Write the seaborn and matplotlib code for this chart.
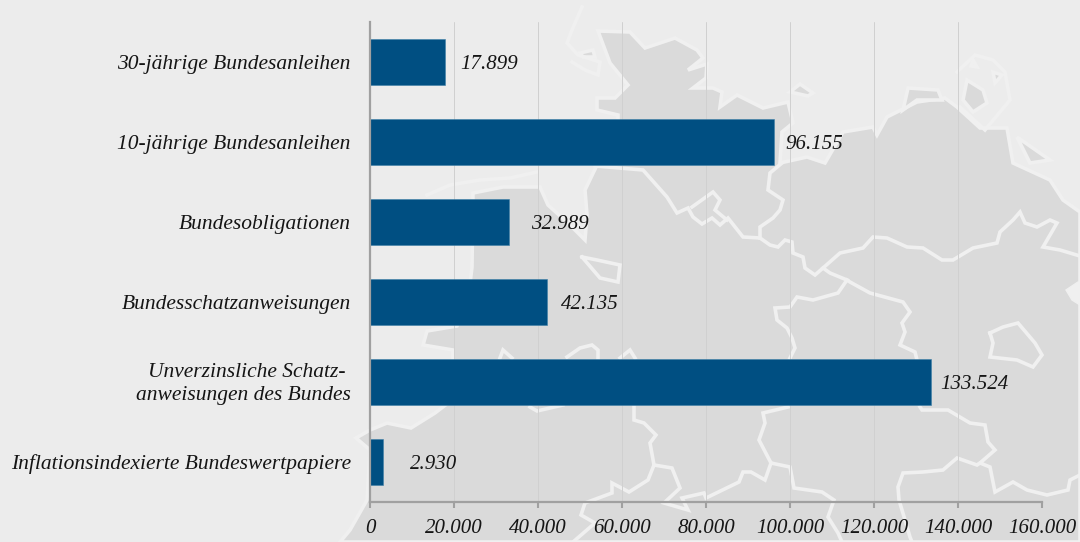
import matplotlib
matplotlib.use('Agg')
import matplotlib.pyplot as plt
from matplotlib.patches import Polygon
from matplotlib.transforms import ScaledTranslation
import pandas as pd
import seaborn as sns

# data
categories = ['30-jährige Bundesanleihen', '10-jährige Bundesanleihen', 'Bundesobligationen',
              'Bundesschatzanweisungen', 'Unverzinsliche Schatz- \nanweisungen des Bundes',
              'Inflationsindexierte Bundeswertpapiere']
values = [17899, 96155, 32989, 42135, 133524, 2930]
x_ticks = [0, 20000, 40000, 60000, 80000, 100000, 120000, 140000, 160000]
label_gap = [15, 11, 22, 14, 9, 27]  # px between bar end and number

BG = '#ECECEC'
LAND = '#DADADA'
STROKE = '#F0F0F0'
BAR = '#004F82'
AXIS = '#A0A0A0'
TEXT = '#151515'

# background map, in pixels of the picture
land = [(598, 31), (630, 32), (645, 48), (675, 38), (697, 50), (703, 58), (688, 70), (707, 64), (706, 78),
        (693, 88), (713, 88), (722, 92), (720, 107), (737, 95), (763, 108), (788, 102), (793, 123),
        (782, 132), (780, 163), (807, 157), (825, 163), (843, 132), (873, 127), (877, 135), (887, 117),
        (917, 102), (945, 98), (957, 107), (980, 128), (1007, 128), (1013, 163), (1050, 180), (1063, 200),
        (1080, 212), (1080, 542), (340, 542), (350, 530), (367, 500), (370, 450), (356, 438), (370, 430),
        (387, 423), (411, 428), (435, 413), (452, 400), (453, 350), (423, 345), (427, 331), (457, 326),
        (468, 300), (472, 267), (473, 193), (503, 187), (540, 187), (548, 205), (570, 225), (585, 240),
        (587, 215), (585, 190), (597, 165), (618, 160), (618, 115), (597, 110), (597, 98), (615, 98),
        (628, 85), (610, 63)]
islands = [
    [(967, 80), (983, 90), (987, 103), (973, 112), (963, 100)],
    [(993, 72), (1002, 75), (995, 83)],
    [(908, 88), (938, 90), (942, 100), (917, 100), (903, 110)],
    [(1017, 137), (1050, 160), (1030, 163)],
    [(790, 92), (800, 84), (813, 93), (808, 96)],
    [(580, 53), (593, 50), (595, 57), (583, 57)],
    [(973, 60), (977, 67), (971, 66)],
]
light_patches = [
    [(1066, 290), (1078, 282), (1080, 282), (1080, 305), (1072, 300)],
]
borders = [
    [(595, 166), (643, 170), (667, 197), (677, 213), (688, 208), (693, 217), (702, 224), (712, 218), (720, 225),
     (728, 218), (743, 237), (760, 238), (770, 245), (778, 247), (785, 240), (792, 242), (793, 253), (803, 257),
     (805, 268), (815, 275), (823, 268), (830, 273), (847, 280), (838, 293), (813, 300), (797, 297), (790, 307),
     (775, 308), (777, 320), (787, 328), (792, 338), (795, 348), (790, 358)],
    [(692, 207), (713, 192), (720, 200), (715, 210), (727, 220)],
    [(760, 238), (760, 227), (773, 218), (780, 210), (783, 200), (768, 190), (770, 173), (782, 163)],
    [(823, 268), (840, 253), (863, 248), (873, 237), (887, 238), (907, 247), (923, 248), (942, 260), (953, 260),
     (973, 248), (997, 243), (1000, 232), (1013, 220), (1020, 212), (1025, 223), (1037, 227), (1050, 220),
     (1057, 223), (1043, 247), (1060, 250), (1080, 256)],
    [(582, 257), (597, 260), (620, 265), (618, 282), (600, 278), (582, 257)],
    [(847, 280), (850, 282), (870, 293), (903, 302), (910, 312), (902, 323), (905, 332), (900, 345), (915, 352),
     (917, 360)],
    [(920, 407), (922, 410), (948, 410), (970, 423), (985, 425), (988, 442), (995, 450), (980, 463), (990, 467),
     (995, 492), (1013, 482), (1027, 490), (1047, 495), (1068, 490), (1070, 480), (1080, 475)],
    [(980, 463), (977, 465), (957, 458), (943, 470), (923, 472), (903, 473), (898, 487), (899, 500), (905, 520),
     (910, 537), (912, 542)],
    [(788, 407), (763, 413), (765, 423), (759, 440), (771, 463), (790, 467), (794, 488), (822, 492), (834, 500),
     (828, 517), (838, 533), (842, 542)],
    [(771, 463), (765, 480), (751, 472), (743, 472), (739, 482), (706, 498), (704, 493), (682, 498), (688, 510),
     (664, 503), (680, 488), (672, 468), (654, 465), (648, 480), (629, 492), (612, 483), (612, 493), (585, 503),
     (581, 515), (595, 523), (573, 542)],
    [(654, 465), (650, 443), (656, 435), (644, 423), (634, 420), (634, 407)],
    [(990, 333), (1003, 327), (1018, 323), (1035, 343), (1042, 355), (1033, 367), (1017, 360), (990, 357),
     (993, 343), (990, 333)],
    [(567, 357), (580, 348), (592, 345), (598, 350), (598, 358)],
    [(620, 358), (630, 350), (635, 358)],
    [(530, 407), (537, 411), (563, 405)],
    [(500, 358), (503, 350), (512, 358)],
    [(427, 195), (450, 185), (480, 180), (510, 178), (537, 172)],
    [(582, 7), (572, 30), (567, 43), (578, 55), (600, 62), (598, 75), (585, 70), (572, 62)],
    [(957, 72), (975, 55), (993, 60), (1005, 72), (1010, 100), (985, 130), (960, 107)],
]

plt.figure(figsize=(10.8, 5.42), dpi=100, facecolor=BG)
fig = plt.gcf()

# map sits behind the chart
bg = fig.add_axes([0, 0, 1, 1], zorder=0)
bg.set_xlim(0, 1080)
bg.set_ylim(542, 0)
bg.axis('off')
bg.add_patch(Polygon(land, closed=True, facecolor=LAND, edgecolor=STROKE, linewidth=2.6))
for isl in islands:
    bg.add_patch(Polygon(isl, closed=True, facecolor=LAND, edgecolor=STROKE, linewidth=2.6))
for patch in light_patches:
    bg.add_patch(Polygon(patch, closed=True, facecolor=STROKE, edgecolor=STROKE))
for line in borders:
    bg.plot([p[0] for p in line], [p[1] for p in line], color=STROKE, linewidth=2.6, solid_joinstyle='miter')

# chart
sns.set_style('white')
plt.rcParams['font.family'] = ['Liberation Serif', 'DejaVu Serif']
df = pd.DataFrame({'art': categories, 'wert': values})

ax = fig.add_axes([370.3 / 1080, 1 - 502 / 542, (1042.3 - 370.3) / 1080, 480 / 542], zorder=1)
ax.patch.set_alpha(0)
sns.barplot(data=df, y='art', x='wert', color=BAR, saturation=1, width=0.57, ax=ax,
            edgecolor='#3F7FA6', linewidth=0.4, zorder=3)

ax.set_xlim(0, 160000)
ax.set_ylim(5.5, -0.5)
ax.set_xlabel('')
ax.set_ylabel('')
ax.set_xticks(x_ticks)
ax.set_xticklabels([f'{t:,}'.replace(',', '.') for t in x_ticks], style='italic', fontsize=15, color=TEXT,
                   family=['Liberation Serif', 'DejaVu Serif'])
ax.set_yticks(range(len(categories)))
ax.set_yticklabels(categories, style='italic', fontsize=15.45, color=TEXT, linespacing=1.3,
                   family=['Liberation Serif', 'DejaVu Serif'])

ax.tick_params(axis='x', length=4.5, width=1.5, color=AXIS, pad=7.7, bottom=True)
ax.tick_params(axis='y', length=0, pad=14)
ax.grid(axis='x', color='#D0D0D0', linewidth=0.7, zorder=1)
ax.grid(axis='y', visible=False)
sns.despine(ax=ax, top=True, right=True)
for side in ['left', 'bottom']:
    ax.spines[side].set_color(AXIS)
    ax.spines[side].set_linewidth(1.6)
    ax.spines[side].set_zorder(4)

# two-line label sits a bit higher
two_line = ax.get_yticklabels()[4]
two_line.set_transform(two_line.get_transform() + ScaledTranslation(0, 2.5 / 100, fig.dpi_scale_trans))

for i, v in enumerate(values):
    ax.annotate(f'{v:,}'.replace(',', '.'), xy=(v, i), xytext=(label_gap[i] * 0.72, -1.8),
                textcoords='offset points', va='center', ha='left', style='italic', fontsize=15, color=TEXT,
                zorder=5)

fig.savefig('out.png', dpi=100, facecolor=BG)
